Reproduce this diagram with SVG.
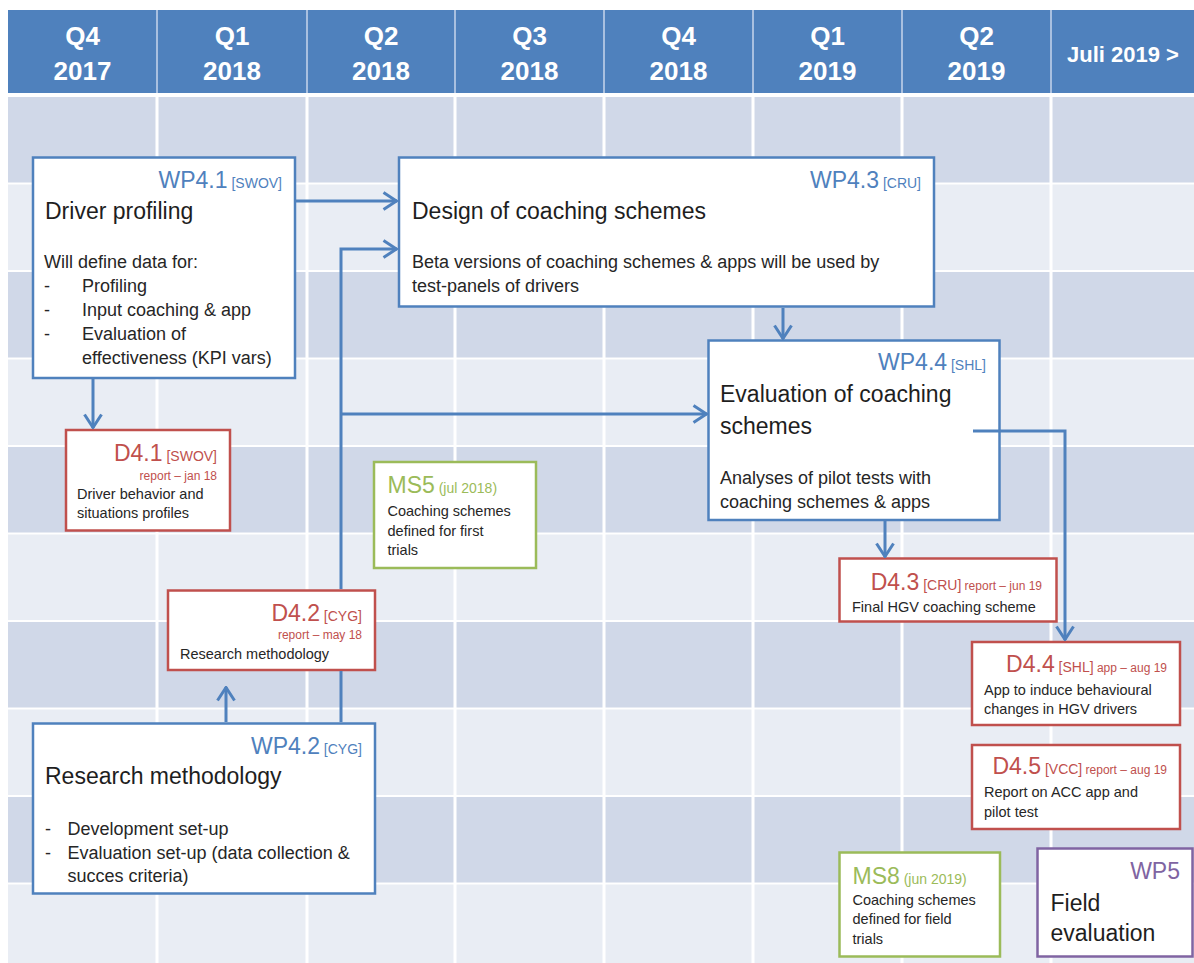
<svg xmlns="http://www.w3.org/2000/svg" width="1194" height="963" viewBox="0 0 1194 963">
<style>
text{font-family:"Liberation Sans",Arial,sans-serif}
.hdr{fill:#4F81BD}
.hsep{stroke:#A9C0E0;stroke-width:2}
.ht{font-weight:bold;fill:#fff;font-size:26px;text-anchor:middle}
.rd{fill:#D0D8E8}
.rl{fill:#E9EDF4}
.gl{stroke:#fff;stroke-width:3}
.box{fill:#fff;stroke-width:2.5}
.wp{stroke:#4F81BD}
.dl{stroke:#C0504D}
.ms{stroke:#9BBB59}
.w5{stroke:#8064A2}
.big{font-size:23px}
.brk{font-size:14px}
.rep{font-size:12px}
.title{font-size:23px;fill:#1e1e1e}
.body{font-size:18px;fill:#262626}
.sm{font-size:14.5px;fill:#262626}
.cb{fill:#4F81BD}
.cr{fill:#C0504D}
.cg{fill:#9BBB59}
.cp{fill:#8064A2}
.end{text-anchor:end}
.conn{fill:none;stroke:#4F81BD;stroke-width:3;marker-end:url(#arr)}
.conn0{fill:none;stroke:#4F81BD;stroke-width:3}
</style>
<defs>
<marker id="arr" markerUnits="userSpaceOnUse" viewBox="0 0 16 20" markerWidth="16" markerHeight="20" refX="15" refY="10" orient="auto">
<path d="M1.5,1.5 L14.5,10 L1.5,18.5" fill="none" stroke="#4F81BD" stroke-width="3"/>
</marker>
</defs>
<rect x="0" y="0" width="1194" height="963" fill="#fff"/>
<g id="grid">
<rect class="rd" x="8" y="97" width="1186" height="85.5"/>
<rect class="rl" x="8" y="184.5" width="1186" height="85.5"/>
<rect class="rd" x="8" y="272" width="1186" height="85.5"/>
<rect class="rl" x="8" y="359.5" width="1186" height="85.5"/>
<rect class="rd" x="8" y="447" width="1186" height="85.5"/>
<rect class="rl" x="8" y="534.5" width="1186" height="85.5"/>
<rect class="rd" x="8" y="622" width="1186" height="85.5"/>
<rect class="rl" x="8" y="709.5" width="1186" height="85.5"/>
<rect class="rd" x="8" y="797" width="1186" height="85.5"/>
<rect class="rl" x="8" y="884.5" width="1186" height="78.5"/>
<line class="gl" x1="157" y1="97" x2="157" y2="963"/>
<line class="gl" x1="307" y1="97" x2="307" y2="963"/>
<line class="gl" x1="455" y1="97" x2="455" y2="963"/>
<line class="gl" x1="604" y1="97" x2="604" y2="963"/>
<line class="gl" x1="753" y1="97" x2="753" y2="963"/>
<line class="gl" x1="902" y1="97" x2="902" y2="963"/>
<line class="gl" x1="1051" y1="97" x2="1051" y2="963"/>
</g>
<g id="header">
<rect class="hdr" x="8" y="10" width="1186" height="83"/>
<line class="hsep" x1="157" y1="10" x2="157" y2="93"/>
<line class="hsep" x1="307" y1="10" x2="307" y2="93"/>
<line class="hsep" x1="455" y1="10" x2="455" y2="93"/>
<line class="hsep" x1="604" y1="10" x2="604" y2="93"/>
<line class="hsep" x1="753" y1="10" x2="753" y2="93"/>
<line class="hsep" x1="902" y1="10" x2="902" y2="93"/>
<line class="hsep" x1="1051" y1="10" x2="1051" y2="93"/>
<text class="ht" x="82.5" y="45">Q4</text><text class="ht" x="82.5" y="80">2017</text>
<text class="ht" x="232" y="45">Q1</text><text class="ht" x="232" y="80">2018</text>
<text class="ht" x="381" y="45">Q2</text><text class="ht" x="381" y="80">2018</text>
<text class="ht" x="529.5" y="45">Q3</text><text class="ht" x="529.5" y="80">2018</text>
<text class="ht" x="678.5" y="45">Q4</text><text class="ht" x="678.5" y="80">2018</text>
<text class="ht" x="827.5" y="45">Q1</text><text class="ht" x="827.5" y="80">2019</text>
<text class="ht" x="976.5" y="45">Q2</text><text class="ht" x="976.5" y="80">2019</text>
<text class="ht" x="1123" y="62" style="font-size:22px">Juli 2019 &gt;</text>
</g>

<g id="wp41">
<rect class="box wp" x="33" y="157.5" width="262" height="220.5"/>
<text class="end cb" x="282" y="188"><tspan class="big">WP4.1</tspan><tspan class="brk"> [SWOV]</tspan></text>
<text class="title" x="45" y="219">Driver profiling</text>
<text class="body" x="44" y="268">Will define data for:</text>
<text class="body" x="44" y="292">-</text><text class="body" x="82" y="292">Profiling</text>
<text class="body" x="44" y="316">-</text><text class="body" x="82" y="316">Input coaching &amp; app</text>
<text class="body" x="44" y="340">-</text><text class="body" x="82" y="340">Evaluation of</text>
<text class="body" x="82" y="364">effectiveness (KPI vars)</text>
</g>

<g id="d41">
<rect class="box dl" x="66" y="430" width="164" height="100.5"/>
<text class="end cr" x="217" y="461"><tspan class="big">D4.1</tspan><tspan class="brk"> [SWOV]</tspan></text>
<text class="end cr rep" x="217" y="480">report – jan 18</text>
<text class="sm" x="77" y="498.5">Driver behavior and</text>
<text class="sm" x="77" y="518">situations profiles</text>
</g>

<g id="wp43">
<rect class="box wp" x="399" y="157.5" width="535" height="149"/>
<text class="end cb" x="921" y="188"><tspan class="big">WP4.3</tspan><tspan class="brk"> [CRU]</tspan></text>
<text class="title" x="412" y="219">Design of coaching schemes</text>
<text class="body" x="412" y="268">Beta versions of coaching schemes &amp; apps will be used by</text>
<text class="body" x="412" y="292">test-panels of drivers</text>
</g>

<g id="wp44">
<rect class="box wp" x="708.5" y="340.5" width="291" height="179.5"/>
<text class="end cb" x="986" y="370"><tspan class="big">WP4.4</tspan><tspan class="brk"> [SHL]</tspan></text>
<text class="title" x="720" y="402">Evaluation of coaching</text>
<text class="title" x="720" y="433.5">schemes</text>
<text class="body" x="720" y="483.5">Analyses of pilot tests with</text>
<text class="body" x="720" y="507.5">coaching schemes &amp; apps</text>
</g>

<g id="ms5">
<rect class="box ms" x="374" y="462" width="162" height="106"/>
<text class="cg" x="387.5" y="493"><tspan class="big">MS5</tspan><tspan class="brk"> (jul 2018)</tspan></text>
<text class="sm" x="387.5" y="516">Coaching schemes</text>
<text class="sm" x="387.5" y="535.5">defined for first</text>
<text class="sm" x="387.5" y="555">trials</text>
</g>

<g id="d42">
<rect class="box dl" x="168" y="590.5" width="207" height="79.5"/>
<text class="end cr" x="362" y="621"><tspan class="big">D4.2</tspan><tspan class="brk"> [CYG]</tspan></text>
<text class="end cr rep" x="362" y="638.5">report – may 18</text>
<text class="sm" x="180" y="658.5">Research methodology</text>
</g>

<g id="wp42">
<rect class="box wp" x="33" y="723.5" width="342" height="170"/>
<text class="end cb" x="362" y="753.5"><tspan class="big">WP4.2</tspan><tspan class="brk"> [CYG]</tspan></text>
<text class="title" x="45" y="784">Research methodology</text>
<text class="body" x="45" y="835">-</text><text class="body" x="67.5" y="835">Development set-up</text>
<text class="body" x="45" y="858.5">-</text><text class="body" x="67.5" y="858.5">Evaluation set-up (data collection &amp;</text>
<text class="body" x="67.5" y="882">succes criteria)</text>
</g>

<g id="d43">
<rect class="box dl" x="839.5" y="558.5" width="217" height="63"/>
<text class="end cr" x="1042" y="590"><tspan class="big">D4.3</tspan><tspan class="brk"> [CRU]</tspan><tspan class="rep"> report – jun 19</tspan></text>
<text class="sm" x="852" y="611.5">Final HGV coaching scheme</text>
</g>

<g id="d44">
<rect class="box dl" x="972" y="642" width="208" height="83"/>
<text class="end cr" x="1167" y="672"><tspan class="big">D4.4</tspan><tspan class="brk"> [SHL]</tspan><tspan class="rep"> app – aug 19</tspan></text>
<text class="sm" x="984" y="695">App to induce behavioural</text>
<text class="sm" x="984" y="714">changes in HGV drivers</text>
</g>

<g id="d45">
<rect class="box dl" x="972" y="745" width="208" height="84"/>
<text class="end cr" x="1167" y="773.5"><tspan class="big">D4.5</tspan><tspan class="brk"> [VCC]</tspan><tspan class="rep"> report – aug 19</tspan></text>
<text class="sm" x="984" y="797">Report on ACC app and</text>
<text class="sm" x="984" y="816.5">pilot test</text>
</g>

<g id="ms8">
<rect class="box ms" x="839.5" y="852.5" width="160.5" height="104"/>
<text class="cg" x="852.5" y="883.5"><tspan class="big">MS8</tspan><tspan class="brk"> (jun 2019)</tspan></text>
<text class="sm" x="852.5" y="905">Coaching schemes</text>
<text class="sm" x="852.5" y="924">defined for field</text>
<text class="sm" x="852.5" y="943.5">trials</text>
</g>

<g id="wp5">
<rect class="box w5" x="1037.5" y="848.5" width="155" height="108"/>
<text class="end cp big" x="1180" y="878.5">WP5</text>
<text class="title" x="1050.5" y="911">Field</text>
<text class="title" x="1050.5" y="941">evaluation</text>
</g>

<g id="connectors">
<path class="conn" d="M296,201 H397"/>
<path class="conn0" d="M341,722 V671"/>
<path class="conn" d="M341,589 V249 H397"/>
<path class="conn" d="M341,414 H707"/>
<path class="conn" d="M93,379 V428"/>
<path class="conn" d="M226,722 V687"/>
<path class="conn" d="M783,308 V339"/>
<path class="conn" d="M885,521 V557"/>
<path class="conn" d="M973,431 H1065 V640"/>
</g>
</svg>
